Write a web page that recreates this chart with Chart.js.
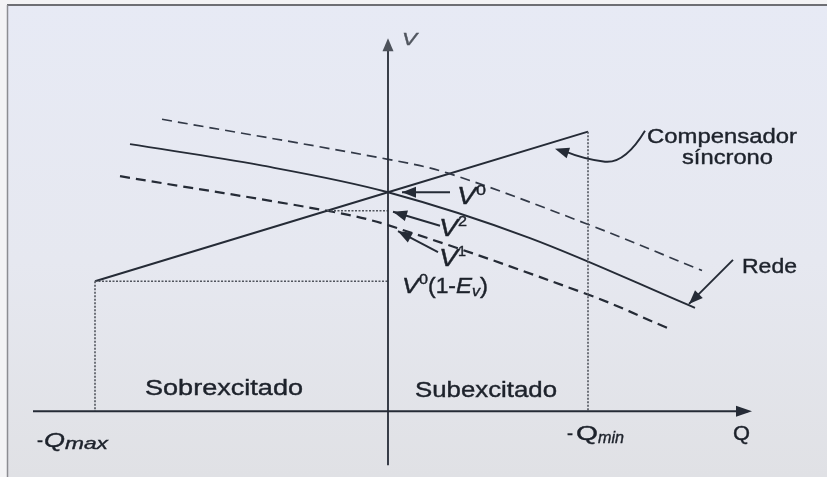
<!DOCTYPE html>
<html>
<head>
<meta charset="utf-8">
<script src="https://cdn.jsdelivr.net/npm/chart.js@4.4.1/dist/chart.umd.min.js"></script>
<style>
  html, body { margin: 0; padding: 0; background: #f4f4f6; }
  canvas { display: block; }
</style>
</head>
<body>
<canvas id="qvChart" width="827" height="477"></canvas>
<script>
// Característica Q-V: rede vs. compensador síncrono
const V0 = 1.0;
const EV = 0.05;
const Q_MAX = 1.465;
const Q_MIN = 1.0;
const V_BASE = 0.877;      // nível do eixo Q

// curva da rede (V0)
const redeQ = [-1.29, -0.64, 0, 0.71, 1.535];
const redeV = [1.027, 1.0152, 1.0, 0.9742, 0.935];
// rede deslocada para cima (tracejada)
const redeAltaQ = [-1.13, 0, 0.30, 0.985, 1.57];
const redeAltaV = [1.041, 1.0185, 1.0107, 0.9826, 0.956];
// rede deslocada para baixo (tracejada, V1 / V2)
const redeBaixaQ = [-1.34, -0.305, 0, 1.01, 1.40];
const redeBaixaV = [1.009, 0.9896, 0.9815, 0.9421, 0.9236];
// característica do compensador
const compQ = [-Q_MAX, 0, Q_MIN];
const compV = [V0 * (1 - EV), V0, 1.034];
const V2 = 0.9896;
const Q_V2 = -0.305;
const V1 = 0.9815;

const qAxisRange = [-1.775, 1.80];
const vAxisRange = [0.8466, 1.080];
const Q_TIP = 1.82;
const V_TIP = 1.0865;

const INK = '#252b36';
const TXT = '#1d222b';
const DOT = '#50545d';

function pts(qs, vs) {
    return qs.map((q, i) => ({ x: q, y: vs[i] }));
}

function line(data, opts) {
    return Object.assign({
        data: data,
        showLine: true,
        pointRadius: 0,
        borderColor: INK,
        borderWidth: 1.9,
        fill: false
    }, opts || {});
}

const FONT = '"Liberation Sans", Arial, sans-serif';

function text(ctx, str, x, y, o) {
    o = o || {};
    const size = o.size || 21;
    ctx.font = (o.italic ? 'italic ' : '') + size + 'px ' + FONT;
    const w = ctx.measureText(str).width;
    const s = o.width ? o.width / w : (o.sx || 1.15);
    ctx.save();
    ctx.fillStyle = o.color || TXT;
    ctx.strokeStyle = o.color || TXT;
    ctx.lineWidth = 0.4;
    ctx.translate(x, y);
    ctx.scale(s, 1);
    ctx.textBaseline = 'alphabetic';
    ctx.fillText(str, 0, 0);
    ctx.strokeText(str, 0, 0);
    ctx.restore();
    return w * s;
}

// sequência de trechos (sobrescrito / subscrito)
function rich(ctx, runs, x, y) {
    let cx = x;
    runs.forEach(r => {
        cx += text(ctx, r.t, cx, y + (r.dy || 0), r) + (r.gap || 0);
    });
}

function arrowHead(ctx, tx, ty, fx, fy, len, half, color) {
    const a = Math.atan2(ty - fy, tx - fx);
    ctx.save();
    ctx.fillStyle = color || INK;
    ctx.beginPath();
    ctx.moveTo(tx, ty);
    ctx.lineTo(tx - len * Math.cos(a) + half * Math.sin(a), ty - len * Math.sin(a) - half * Math.cos(a));
    ctx.lineTo(tx - len * Math.cos(a) - half * Math.sin(a), ty - len * Math.sin(a) + half * Math.cos(a));
    ctx.closePath();
    ctx.fill();
    ctx.restore();
}

function arrow(ctx, fx, fy, tx, ty) {
    ctx.save();
    ctx.strokeStyle = INK;
    ctx.lineWidth = 1.9;
    ctx.beginPath();
    ctx.moveTo(fx, fy);
    ctx.lineTo(tx, ty);
    ctx.stroke();
    ctx.restore();
    arrowHead(ctx, tx, ty, fx, fy, 14, 5.5);
}

const paper = {
    id: 'paper',
    beforeDraw(chart) {
        const ctx = chart.ctx;
        const W = chart.width, H = chart.height;
        ctx.save();
        ctx.fillStyle = '#f3f3f5';
        ctx.fillRect(0, 0, W, H);
        const g = ctx.createLinearGradient(0, 0, 0, H);
        g.addColorStop(0, '#e7eaf5');
        g.addColorStop(0.55, '#e6e8f0');
        g.addColorStop(1, '#e0e1e5');
        ctx.fillStyle = g;
        ctx.fillRect(7, 5, W - 7, H - 5);
        ctx.strokeStyle = '#6e6f74';
        ctx.lineWidth = 2;
        ctx.beginPath();
        ctx.moveTo(7, 5);
        ctx.lineTo(W, 5);
        ctx.stroke();
        ctx.strokeStyle = '#8c8d92';
        ctx.lineWidth = 1.5;
        ctx.beginPath();
        ctx.moveTo(7.5, 5);
        ctx.lineTo(7.5, H);
        ctx.stroke();
        ctx.restore();
    },
    afterDatasetsDraw(chart) {
        const ctx = chart.ctx;
        const sx = chart.scales.x, sy = chart.scales.y;
        const px = q => sx.getPixelForValue(q);
        const py = v => sy.getPixelForValue(v);

        // pontas dos eixos
        arrowHead(ctx, px(0), py(V_TIP), px(0), py(V_BASE), 13, 5.5, '#4d525b');
        arrowHead(ctx, px(Q_TIP), py(V_BASE), px(0), py(V_BASE), 16, 5.5);

        // setas V0, V2, V1
        arrow(ctx, px(0) + 62, py(V0), px(0) + 14, py(V0));
        arrow(ctx, px(0) + 52, py(V2) + 15, px(0) + 5, py(V2) + 1);
        arrow(ctx, px(0) + 50, py(V1) + 27, px(0) + 10, py(V1) + 6);

        // seta da rede
        const rEndX = px(redeQ[redeQ.length - 1]), rEndY = py(redeV[redeV.length - 1]);
        arrow(ctx, rEndX + 38, rEndY - 48, rEndX - 6, rEndY - 4);

        // guia curva do compensador
        const tx = px(0.835), ty = py(1 + 0.835 * 0.034) + 7;
        ctx.save();
        ctx.strokeStyle = INK;
        ctx.lineWidth = 1.9;
        ctx.beginPath();
        ctx.moveTo(tx + 90, ty - 18);
        ctx.quadraticCurveTo(tx + 70, ty + 15, tx + 50, ty + 13);
        ctx.quadraticCurveTo(tx + 30, ty + 11, tx + 8, ty + 2);
        ctx.stroke();
        ctx.restore();
        arrowHead(ctx, tx, ty, tx + 22, ty + 7, 14, 5.5);

        // textos
        text(ctx, 'V', px(0) + 14, 45, { italic: true, size: 17, width: 15, color: '#50555e' });
        text(ctx, 'Q', px(Q_TIP) - 19, 440, { size: 21, width: 17 });
        rich(ctx, [
            { t: '-', size: 21, width: 6, gap: 1 },
            { t: 'Q', size: 21, italic: true, width: 21 },
            { t: 'max', size: 17, italic: true, width: 43, dy: 2 }
        ], 37, 447);
        rich(ctx, [
            { t: '-', size: 21, width: 6, gap: 3 },
            { t: 'Q', size: 21, italic: false, width: 22 },
            { t: 'min', size: 17, italic: true, width: 26, dy: 3 }
        ], 567, 440);
        text(ctx, 'Sobrexcitado', 145, 395, { size: 22, width: 158 });
        text(ctx, 'Subexcitado', 415, 397, { size: 22, width: 142 });
        text(ctx, 'Compensador', 647, 143, { size: 21, width: 150 });
        text(ctx, 'síncrono', 682, 164, { size: 21, width: 91 });
        text(ctx, 'Rede', 742, 273, { size: 21, width: 55 });

        rich(ctx, [
            { t: 'V', size: 23, italic: true, width: 19 },
            { t: '0', size: 15, width: 10, dy: -9 }
        ], 457, 204);
        rich(ctx, [
            { t: 'V', size: 23, italic: true, width: 19 },
            { t: '2', size: 15, width: 9, dy: -10 }
        ], 439, 236);
        rich(ctx, [
            { t: 'V', size: 23, italic: true, width: 19 },
            { t: '1', size: 15, width: 8, dy: -10 }
        ], 439, 266);
        rich(ctx, [
            { t: 'V', size: 22, italic: true, width: 17 },
            { t: '0', size: 14, width: 9, dy: -9 },
            { t: '(1-', size: 22, width: 28 },
            { t: 'E', size: 22, italic: true, width: 16 },
            { t: 'v', size: 14, italic: true, width: 8, dy: 3 },
            { t: ')', size: 22, width: 8 }
        ], 402, 293);
    }
};

new Chart(document.getElementById('qvChart'), {
    type: 'scatter',
    data: {
        datasets: [
            // eixos
            line([{ x: qAxisRange[0], y: V_BASE }, { x: qAxisRange[1], y: V_BASE }], { borderWidth: 2 }),
            line([{ x: 0, y: vAxisRange[0] }, { x: 0, y: vAxisRange[1] }], { borderWidth: 1.8 }),
            // linhas de chamada pontilhadas
            line([{ x: -Q_MAX, y: V0 * (1 - EV) }, { x: 0, y: V0 * (1 - EV) }], { borderColor: DOT, borderWidth: 1.6, borderDash: [2, 1.5] }),
            line([{ x: -Q_MAX, y: V0 * (1 - EV) }, { x: -Q_MAX, y: V_BASE }], { borderColor: DOT, borderWidth: 1.6, borderDash: [2, 1.5] }),
            line([{ x: Q_MIN, y: compV[2] }, { x: Q_MIN, y: V_BASE }], { borderColor: DOT, borderWidth: 1.6, borderDash: [2, 1.5] }),
            line([{ x: Q_V2, y: V2 }, { x: 0, y: V2 }], { borderColor: DOT, borderWidth: 1.6, borderDash: [2, 1.5] }),
            // curvas
            line(pts(redeAltaQ, redeAltaV), { borderDash: [10, 6], borderWidth: 1.7, tension: 0.35, borderColor: '#323947' }),
            line(pts(redeQ, redeV), { tension: 0.35 }),
            line(pts(redeBaixaQ, redeBaixaV), { borderDash: [10, 6], borderWidth: 2.2, tension: 0.35 }),
            line(pts(compQ, compV), {})
        ]
    },
    options: {
        responsive: false,
        animation: false,
        layout: { padding: 0 },
        plugins: {
            legend: { display: false },
            tooltip: { enabled: false }
        },
        scales: {
            x: { type: 'linear', display: false, min: -1.94, max: 2.195 },
            y: { type: 'linear', display: false, min: 0.84, max: 1.108 }
        }
    },
    plugins: [paper]
});
</script>
</body>
</html>
